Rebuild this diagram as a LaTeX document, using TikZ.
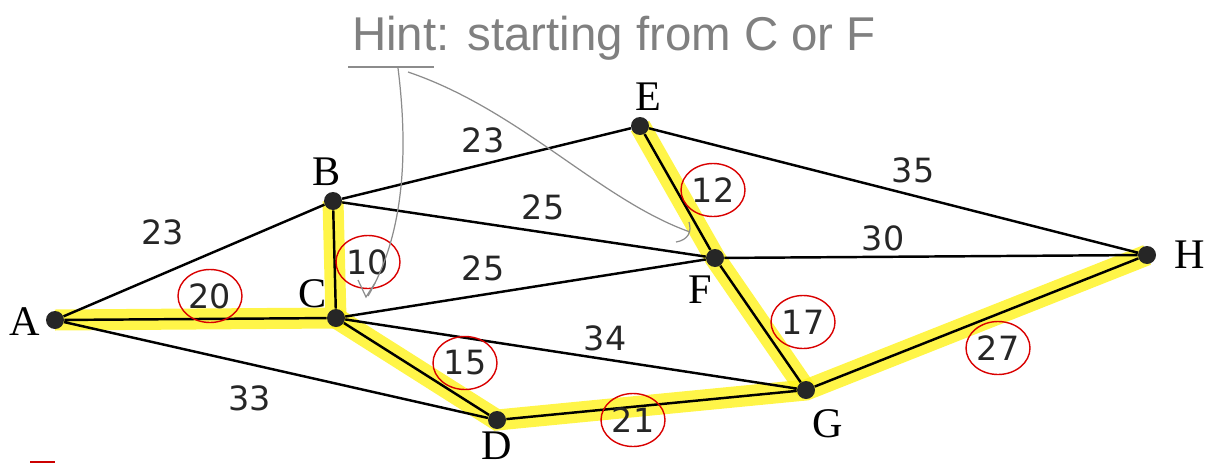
\documentclass[tikz,border=0pt]{standalone}
\usepackage{fontspec}
\setmainfont{Liberation Serif}
\newfontfamily\numfont{DejaVu Sans}
\newfontfamily\handfont{Liberation Sans}
\usetikzlibrary{arrows.meta}
\begin{document}
\begin{tikzpicture}[x=0.02cm,y=-0.02cm,
  vertex/.style={circle,fill=black!85,inner sep=0pt,minimum size=0.36cm},
  vlabel/.style={font=\fontsize{24}{24}\selectfont,inner sep=1pt},
  weight/.style={font=\numfont\fontsize{19}{19}\selectfont,text=black!85},
  pick/.style={line width=0.42cm,yellow!90!white,opacity=0.8},
  hint/.style={draw=black!45,line width=0.7pt}]
\useasboundingbox (0,0) rectangle (1212,470);
% places
\coordinate (pA) at (55,320);
\coordinate (pB) at (333,201);
\coordinate (pC) at (336,318);
\coordinate (pD) at (497,420);
\coordinate (pE) at (640,126);
\coordinate (pF) at (715,258);
\coordinate (pG) at (806,390);
\coordinate (pH) at (1147,255);
% highlighted tree
\draw[pick] (pA) -- (pC) -- (pB);
\draw[pick] (pC) -- (pD) -- (pG) -- (pH);
\draw[pick] (pE) -- (pF) -- (pG);
% vertices
\foreach \v in {A,B,C,D,E,F,G,H}
  \node[vertex] (\v) at (p\v) {};
\node[vlabel] (lA) at (25,322) {A};
\node[vlabel] (lB) at (327,172) {B};
\node[vlabel] (lC) at (313,294) {C};
\node[vlabel] (lD) at (497,446) {D};
\node[vlabel] (lE) at (648,97) {E};
\node[vlabel] (lF) at (700,290) {F};
\node[vlabel] (lG) at (828,424) {G};
\node[vlabel] (lH) at (1190,255) {H};
% edges
\draw[line width=1.4pt] (A) -- (B) (A) -- (C) (A) -- (D)
  (B) -- (C) (B) -- (E) (B) -- (F)
  (C) -- (F) (C) -- (D) (C) -- (G)
  (D) -- (G) (E) -- (F) (E) -- (H)
  (F) -- (H) (F) -- (G) (G) -- (H);
% weights
\node[weight] (wAB) at (163,232) {23};
\node[weight] (wAC) at (210,296) {20};
\node[weight] (wAD) at (250,398) {33};
\node[weight] (wBC) at (368,262) {10};
\node[weight] (wBE) at (483,140) {23};
\node[weight] (wBF) at (543,207) {25};
\node[weight] (wCF) at (483,268) {25};
\node[weight] (wCD) at (465,363) {15};
\node[weight] (wCG) at (605,338) {34};
\node[weight] (wDG) at (633,420) {21};
\node[weight] (wEF) at (713,190) {12};
\node[weight] (wEH) at (913,170) {35};
\node[weight] (wFH) at (883,238) {30};
\node[weight] (wFG) at (803,322) {17};
\node[weight] (wGH) at (998,348) {27};
\foreach \w in {wAC,wBC,wCD,wDG,wEF,wFG,wGH}
  \draw[red!85!black,line width=0.8pt] (\w.center) ellipse [x radius=0.64cm,y radius=0.53cm];
% hint
\node[text=black!50,font=\handfont\fontsize{27}{27}\selectfont,anchor=west] (hint) at (346,38) {Hint: starting from C or F};
\draw[hint] (348,67) -- (434,67);
\coordinate (h1) at (398,68);
\coordinate (h2) at (408,72);
\draw[hint] (h1) .. controls (412,180) and (395,250) .. (368,296);
\draw[hint] (358,280) -- (366,297) -- (375,283);
\draw[hint] (h2) .. controls (520,110) and (600,200) .. (690,232);
\draw[hint] (676,242) .. controls (688,240) and (692,232) .. (689,222);
% red mark
\draw[red!80!black,line width=1.2pt] (30,462) -- (55,462);
\end{tikzpicture}
\end{document}
